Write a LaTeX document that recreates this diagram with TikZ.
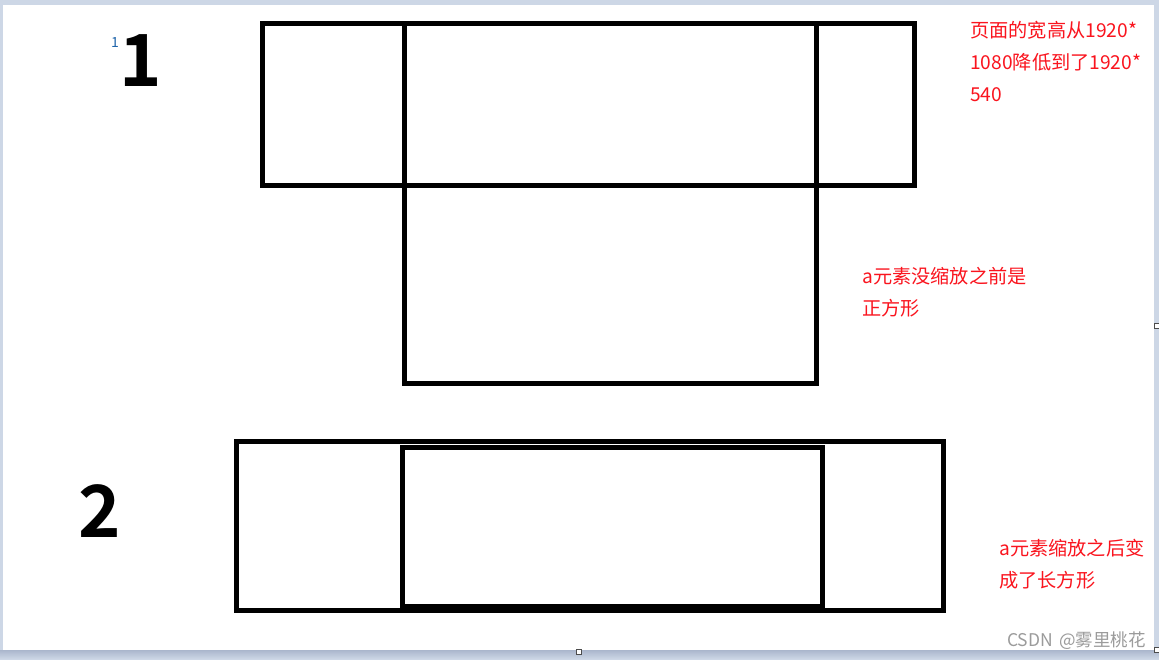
\documentclass[tikz,border=0pt]{standalone}
\usepackage{fontspec}
\setmainfont{Liberation Sans}
\newfontfamily\cjk{Noto Sans CJK SC}
\newfontfamily\numfont{Noto Sans CJK SC}[BoldFont={* Bold}]
\definecolor{framec}{RGB}{205,215,230}
\definecolor{framedark}{RGB}{170,182,204}
\definecolor{notered}{RGB}{250,20,30}
\definecolor{markblue}{RGB}{30,100,170}
\definecolor{wmgrey}{RGB}{155,155,155}
\tikzset{
  box/.style={draw=black, line width=5pt, rectangle, inner sep=0pt, outer sep=0pt},
  note/.style={anchor=west, inner sep=0pt, text=notered, font=\cjk\fontsize{19.2}{23}\selectfont},
  bignum/.style={anchor=west, inner sep=0pt, font=\numfont\bfseries\fontsize{72}{80}\selectfont},
  handle/.style={draw=black!70, fill=white, line width=0.8pt, minimum size=5pt, inner sep=0pt}
}
\begin{document}
\begin{tikzpicture}[x=1pt, y=-1pt]
\useasboundingbox (0,0) rectangle (1159,659);
% window frame
\fill[framec] (0,0) rectangle (1159,659);
\shade[top color=framedark, bottom color=framec] (0,650) rectangle (1159,659);
\fill[white] (3,5) rectangle (1154,650);
\node[handle] (h1) at (579,652) {};
\node[handle] (h2) at (1156.5,326) {};
\node[handle] (h3) at (1157,650) {};

% part 1
\node[box, minimum width=652pt, minimum height=162pt] (page1) at (588.5,104.5) {};
\node[box, minimum width=412pt, minimum height=360pt] (a1) at (610.5,203.5) {};
\node[bignum] (n1) at (119.5,61) {1};
\node[anchor=east, inner sep=0pt, text=markblue, font=\numfont\fontsize{14}{14}\selectfont] (m1) at (119,43) {1};

% part 2
\node[box, minimum width=707pt, minimum height=168.5pt] (page2) at (590,525.75) {};
\node[box, minimum width=420pt, minimum height=159pt] (a2) at (612.5,527) {};
\node[bignum] (n2) at (78,511) {2};

% notes
\node[note] (t1) at (970,30) {页面的宽高从1920*};
\node[note] (t2) at (970,62.5) {1080降低到了1920*};
\node[note] (t3) at (970,95) {540};
\node[note] (t4) at (862,276) {a元素没缩放之前是};
\node[note] (t5) at (862,308) {正方形};
\node[note] (t6) at (999,548) {a元素缩放之后变};
\node[note] (t7) at (999,580) {成了长方形};
\node[anchor=west, inner sep=0pt, text=wmgrey, font=\cjk\fontsize{17.5}{19}\selectfont] (wm) at (1007,641) {CSDN\hspace{6pt}@雾里桃花};
\end{tikzpicture}
\end{document}
